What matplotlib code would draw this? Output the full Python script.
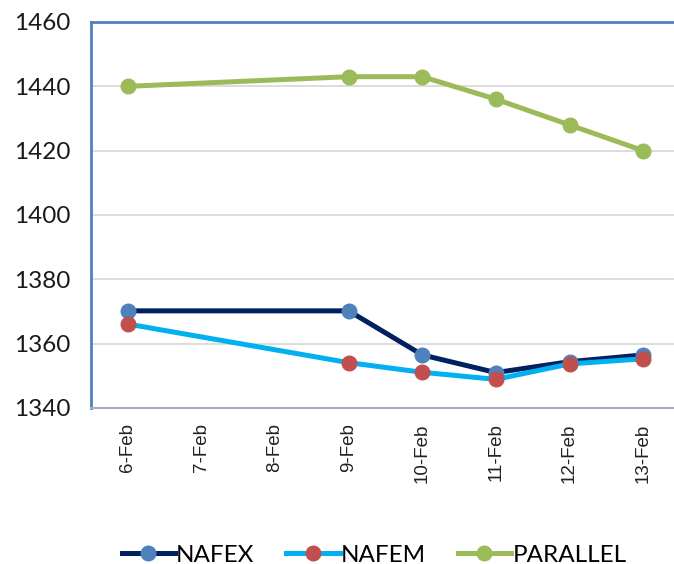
import matplotlib
matplotlib.use("Agg")
import matplotlib.pyplot as plt

categories = ["6-Feb", "7-Feb", "8-Feb", "9-Feb", "10-Feb", "11-Feb", "12-Feb", "13-Feb"]
data_dates = ["6-Feb", "9-Feb", "10-Feb", "11-Feb", "12-Feb", "13-Feb"]
nafex = [1370.2, 1370.2, 1356.5, 1351.0, 1354.4, 1356.5]
nafem = [1366.1, 1354.1, 1351.1, 1348.9, 1353.7, 1355.3]
parallel = [1440, 1443, 1443, 1436, 1428, 1420]
yticks = [1340, 1360, 1380, 1400, 1420, 1440, 1460]

fig = plt.figure(figsize=(6.74, 5.64), dpi=100)
ax = fig.add_axes([91/674, 1 - 408/564, (680 - 91)/674, (408 - 22)/564])

xs = [categories.index(d) for d in data_dates]
lw = 3.6
ms = 10.5
ax.plot(xs, nafex, color="#002060", lw=lw, marker="o", ms=ms,
        markerfacecolor="#4f81bd", markeredgecolor="#4f81bd", label="NAFEX", zorder=3)
ax.plot(xs, nafem, color="#00b0f0", lw=lw, marker="o", ms=ms,
        markerfacecolor="#c0504d", markeredgecolor="#c0504d", label="NAFEM", zorder=4)
ax.plot(xs, parallel, color="#9bbb59", lw=lw, marker="o", ms=ms,
        markerfacecolor="#9bbb59", markeredgecolor="#9bbb59", label="PARALLEL", zorder=5)

ax.set_xlim(-0.5, len(categories) - 0.5)
ax.set_ylim(1340, 1460)
ax.set_yticks(yticks)
ax.set_yticklabels([str(v) for v in yticks], fontsize=17.5, family="Lato", color="#1a1a1a")
ax.set_xticks(range(len(categories)))
ax.set_xticklabels(categories, rotation=90, fontsize=13.5, family="Liberation Sans", color="#222222")
ax.tick_params(axis="both", length=0)
ax.tick_params(axis="y", pad=15)
ax.tick_params(axis="x", pad=11)
ax.grid(axis="y", color="#d9d9d9", lw=1.3, zorder=0)
ax.set_axisbelow(True)

ax.spines["right"].set_visible(False)
ax.spines["left"].set_color("#4f81bd")
ax.spines["left"].set_linewidth(2)
ax.spines["top"].set_color("#4f81bd")
ax.spines["top"].set_linewidth(2)
ax.spines["bottom"].set_color("#a6aec4")
ax.spines["bottom"].set_linewidth(1.5)

leg = fig.legend(loc="center", bbox_to_anchor=(374/674, 1 - 555/564), ncol=3, frameon=False,
                 prop={"family": "Lato", "size": 17.5},
                 handlelength=2.2, columnspacing=1.3, handletextpad=0.05)

fig.savefig("out.png", dpi=100)
